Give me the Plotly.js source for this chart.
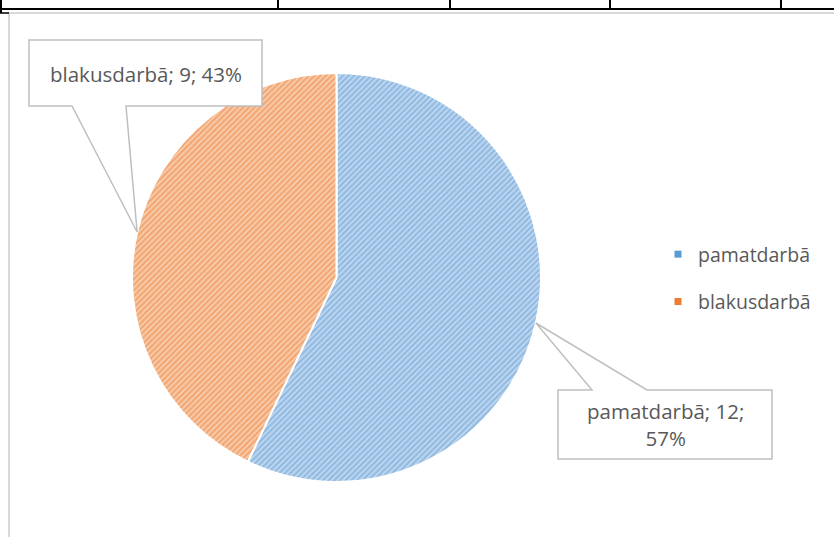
<!DOCTYPE html>
<html>
<head>
<meta charset="utf-8">
<script src="https://cdn.plot.ly/plotly-3.0.1.min.js"></script>
<style>html,body{margin:0;padding:0;background:#fff;}#chart{width:834px;height:537px;}</style>
</head>
<body>
<div id="chart"></div>
<script>
// ---- data ----
var labels = ["pamatdarbā", "blakusdarbā"];
var values = [12, 9];
var colors = ["#5b9bd5", "#ed7d31"];
var bgColors = ["#c6daf0", "#f8d0b3"];

// ---- layout helpers (pixel -> paper) ----
var W = 834, H = 537;
function px(x) { return x / W; }
function py(y) { return 1 - y / H; }

// pie geometry (pixels)
var pie = { x0: 132, x1: 541, y0: 73, y1: 482 };
var cx = (pie.x0 + pie.x1) / 2, cy = (pie.y0 + pie.y1) / 2;
var R = Math.min(pie.x1 - pie.x0, pie.y1 - pie.y0) / 2;

var total = values.reduce(function (a, b) { return a + b; }, 0);
// anchor points at slice mid-angles (clockwise from 12 o'clock)
var anchors = [];
var acc = 0;
values.forEach(function (v) {
  var mid = (acc + v / 2) / total * 2 * Math.PI;
  anchors.push({ x: cx + R * Math.sin(mid), y: cy - R * Math.cos(mid) });
  acc += v;
});

function P(x, y) { return px(x).toFixed(5) + "," + py(y).toFixed(5); }

var textColor = "#595959";
var font = "Open Sans, Noto Sans, sans-serif";
var fsize = 20.5;

// callout boxes (pixels)
var boxB = { x0: 29, x1: 262, y0: 40, y1: 106, p0: 72, p1: 126 };   // blakusdarbā
var boxP = { x0: 558, x1: 772, y0: 390, y1: 459, p0: 592, p1: 647 }; // pamatdarbā

var aP = anchors[0], aB = anchors[1];
var pathB = "M" + P(boxB.x0, boxB.y0) + " L" + P(boxB.x1, boxB.y0) + " L" + P(boxB.x1, boxB.y1) +
  " L" + P(boxB.p1, boxB.y1) + " L" + P(aB.x, aB.y) + " L" + P(boxB.p0, boxB.y1) +
  " L" + P(boxB.x0, boxB.y1) + " Z";
var pathP = "M" + P(boxP.x0, boxP.y0) + " L" + P(boxP.p0, boxP.y0) + " L" + P(aP.x, aP.y) +
  " L" + P(boxP.p1, boxP.y0) + " L" + P(boxP.x1, boxP.y0) + " L" + P(boxP.x1, boxP.y1) +
  " L" + P(boxP.x0, boxP.y1) + " Z";

function pct(v) { return Math.round(v / total * 100) + "%"; }

var shapes = [
  // chart frame (light gray)
  { type: "rect", xref: "paper", yref: "paper", x0: px(9), x1: px(W + 20), y0: py(13), y1: py(H + 20),
    line: { color: "#d9d9d9", width: 2 }, fillcolor: "rgba(0,0,0,0)", layer: "below" },
  // top table border
  { type: "line", xref: "paper", yref: "paper", x0: 0, x1: 1, y0: py(9), y1: py(9), line: { color: "#000", width: 2 } },
  { type: "line", xref: "paper", yref: "paper", x0: px(1), x1: px(1), y0: py(0), y1: py(13), line: { color: "#000", width: 2 } },
  { type: "line", xref: "paper", yref: "paper", x0: 0, x1: px(9), y0: py(13), y1: py(13), line: { color: "#000", width: 1.5 } }
];
[278, 450, 610, 781].forEach(function (x) {
  shapes.push({ type: "line", xref: "paper", yref: "paper", x0: px(x), x1: px(x), y0: py(0), y1: py(9), line: { color: "#000", width: 2 } });
});
shapes.push({ type: "path", xref: "paper", yref: "paper", path: pathB, line: { color: "#bfbfbf", width: 1.5 }, fillcolor: "#ffffff", layer: "above" });
shapes.push({ type: "path", xref: "paper", yref: "paper", path: pathP, line: { color: "#bfbfbf", width: 1.5 }, fillcolor: "#ffffff", layer: "above" });

var annotations = [
  { xref: "paper", yref: "paper", x: px((boxB.x0 + boxB.x1) / 2), y: py((boxB.y0 + boxB.y1) / 2 + 1),
    text: labels[1] + "; " + values[1] + "; " + pct(values[1]), showarrow: false,
    font: { family: font, size: fsize, color: textColor }, xanchor: "center", yanchor: "middle" },
  { xref: "paper", yref: "paper", x: px((boxP.x0 + boxP.x1) / 2), y: py((boxP.y0 + boxP.y1) / 2),
    text: labels[0] + "; " + values[0] + ";<br>" + pct(values[0]), showarrow: false,
    font: { family: font, size: fsize, color: textColor }, xanchor: "center", yanchor: "middle" }
];

var traces = [{
  type: "pie",
  labels: labels,
  values: values,
  sort: false,
  direction: "clockwise",
  rotation: 0,
  textinfo: "none",
  hoverinfo: "label+value+percent",
  showlegend: false,
  domain: { x: [px(pie.x0), px(pie.x1)], y: [py(pie.y1), py(pie.y0)] },
  marker: {
    colors: bgColors,
    line: { color: "#ffffff", width: 2 },
    pattern: { shape: "/", fgcolor: colors, bgcolor: bgColors, size: 4, solidity: 0.6, fillmode: "overlay" }
  }
}];
// legend entries
labels.forEach(function (l, i) {
  traces.push({
    type: "scatter", mode: "markers", x: [null], y: [null], name: l,
    legendgroup: l, showlegend: true,
    marker: { symbol: "square", size: 7, color: colors[i] }
  });
});

var layout = {
  width: W, height: H,
  margin: { l: 0, r: 0, t: 0, b: 0 },
  paper_bgcolor: "#ffffff", plot_bgcolor: "#ffffff",
  xaxis: { visible: false }, yaxis: { visible: false },
  showlegend: true,
  legend: { x: px(658), y: py(278), xanchor: "left", yanchor: "middle",
    font: { family: font, size: 19.5, color: textColor }, tracegroupgap: 19,
    itemwidth: 30, bgcolor: "rgba(0,0,0,0)" },
  shapes: shapes,
  annotations: annotations
};

Plotly.newPlot("chart", traces, layout, { staticPlot: true });
</script>
</body>
</html>
